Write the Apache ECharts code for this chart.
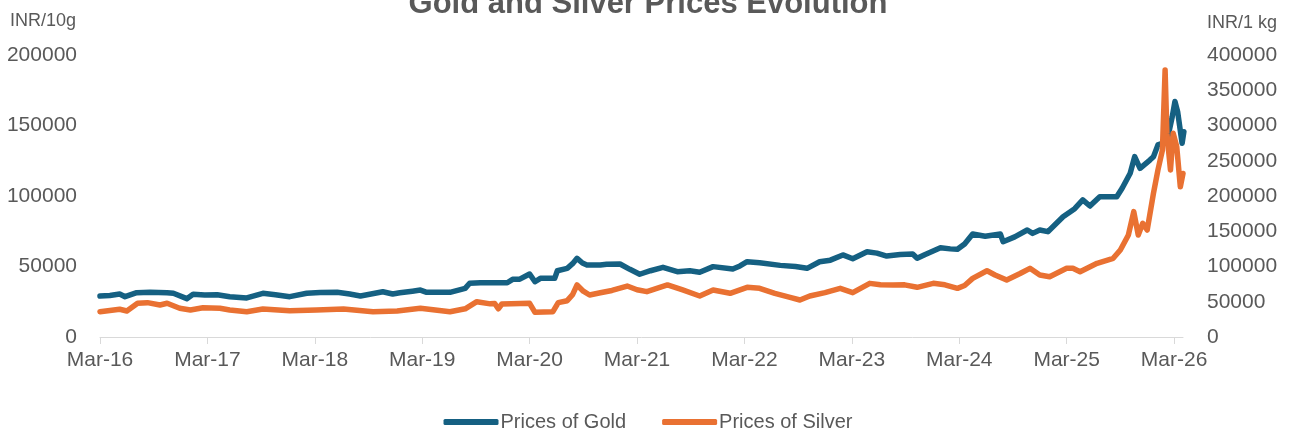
<!DOCTYPE html>
<html>
<head>
<meta charset="utf-8">
<script src="https://cdn.jsdelivr.net/npm/echarts@6/dist/echarts.min.js"></script>
<style>
html,body{margin:0;padding:0;background:#fff;}
#chart{width:1296px;height:434px;}
</style>
</head>
<body>
<div id="chart"></div>
<script>
// Months elapsed since March 2016
var goldMonths = [0,1.1,2.2,2.8,4.1,5.6,7.5,8.2,9.7,10.4,11.7,13.1,14.5,16.4,18.2,19.6,21.2,23.1,24.6,26.5,27.9,29.1,31.6,32.7,33.5,34.9,35.8,36.5,39.1,40.8,41.3,42.5,44.7,45.5,46.1,46.9,48.0,48.6,49.2,50.8,51.1,52.2,52.8,53.3,53.9,54.4,55.9,56.6,58.1,59.2,60.3,61.5,62.9,64.5,65.9,67.0,68.5,70.7,71.5,72.3,73.7,76.0,77.7,79.0,80.4,81.6,83.0,84.1,85.7,86.8,87.9,89.4,90.8,91.3,92.2,93.9,95.0,95.8,96.6,97.5,98.9,100.6,100.9,102.2,103.6,104.2,105.0,105.9,107.6,108.9,109.8,110.6,111.7,113.6,114.2,115.1,115.6,116.2,117.3,117.7,118.2,119.2,119.8,120.1,120.4,120.9,121.1];
// INR per 10 g
var goldValues = [29100,29500,30500,28600,31400,31800,31400,31000,27200,30300,29800,30000,28600,27700,31000,30000,28600,31000,31500,31700,30500,29100,32100,30500,31400,32500,33300,31700,31700,34500,38100,38500,38500,38500,40900,41000,44700,39200,41600,41600,47000,48700,52000,55800,52500,51100,51000,51600,51800,48000,44500,47000,49400,46300,47000,45900,49900,48200,50400,53400,52700,50800,50000,48700,53400,54500,58200,55500,60500,59500,57400,58500,58900,55800,58500,63300,62500,62200,66000,73000,71500,73000,67600,71000,75900,73500,75900,74700,85300,91000,97200,92900,99500,99500,105500,116100,127900,119600,125500,127900,136200,138500,156300,167000,159800,137400,145600];

var silverMonths = [0,1.1,2.2,3.0,4.2,5.3,6.7,7.5,8.9,10.1,11.5,13.4,14.5,16.4,18.2,21.2,24.2,27.2,30.5,33.2,35.8,39.1,40.8,42.1,43.6,44.1,44.5,44.9,48.0,48.6,50.6,51.2,52.2,52.8,53.3,54.0,54.7,55.9,57.2,58.9,60.0,61.1,63.4,65.1,67.0,68.5,70.4,72.3,73.7,75.4,77.1,78.2,79.3,81.0,82.7,84.1,86.0,87.2,88.6,89.9,91.3,93.1,94.4,95.8,96.6,97.5,99.1,100.0,101.3,102.8,103.9,105.0,106.1,108.0,108.7,109.5,111.4,113.2,114.0,114.9,115.5,116.0,116.5,117.0,117.7,118.2,118.7,119.0,119.2,119.6,119.9,120.3,120.7,121.0];
// INR per 1 kg
var silverValues = [35900,37500,39300,36900,47800,48700,45400,47800,40700,38300,41600,40700,38300,35900,39700,37300,38300,39700,35900,36900,40700,35900,40000,50100,47000,47500,40000,46800,47800,35000,35900,48700,51500,60000,73800,65000,59600,62800,66000,72300,67000,64300,73800,66700,58200,66700,62000,70500,69000,62000,56300,52500,58200,63000,69000,62900,76100,74000,73800,74000,70500,76100,74000,69000,73000,83200,94000,88000,80800,90000,97400,87900,85500,97400,97400,92600,104500,111600,123400,144700,177800,144700,161300,151800,203800,236900,265200,378700,288800,236900,289000,270000,213000,232000];

var tickMonths = [0,12,24,36,48,60,72,84,96,108,120];
var tickLabels = ['Mar-16','Mar-17','Mar-18','Mar-19','Mar-20','Mar-21','Mar-22','Mar-23','Mar-24','Mar-25','Mar-26'];

var titleText = 'Gold and Silver Prices Evolution';
var seriesNames = ['Prices of Gold','Prices of Silver'];
var axisNames = ['INR/10g','INR/1 kg'];

function pairs(xs, ys){ return xs.map(function(x,i){ return [x, ys[i]]; }); }
function plain(v){ return String(v); }

var FONT = '"Liberation Sans", Arial, sans-serif';
var GREY = '#595959';

var chart = echarts.init(document.getElementById('chart'), null, {renderer:'canvas'});
chart.setOption({
  animation:false,
  backgroundColor:'#ffffff',
  textStyle:{fontFamily:FONT},
  title:{
    text:titleText, left:'center', top:-16,
    textStyle:{fontFamily:FONT, fontSize:31, fontWeight:'bold', color:GREY}
  },
  legend:{
    bottom:-3, left:'center', itemWidth:55, itemHeight:6, itemGap:36, icon:'roundRect',
    textStyle:{fontFamily:FONT, fontSize:20, color:GREY, padding:[0,0,0,-3]},
    data:seriesNames
  },
  grid:{left:100, right:113, top:55, bottom:97, containLabel:false},
  xAxis:{
    type:'value', min:0, max:121,
    axisLine:{show:true, lineStyle:{color:'#d9d9d9', width:1}},
    axisTick:{show:true, length:7, lineStyle:{color:'#d9d9d9'}, customValues:tickMonths},
    splitLine:{show:false},
    axisLabel:{
      customValues:tickMonths, color:GREY, fontSize:21, fontFamily:FONT, margin:13,
      formatter:function(v){ var i = tickMonths.indexOf(v); return i>=0 ? tickLabels[i] : ''; }
    }
  },
  yAxis:[
    {
      type:'value', min:0, max:200000, interval:50000, position:'left',
      name:axisNames[0], nameLocation:'end', nameGap:34,
      nameTextStyle:{fontFamily:FONT, fontSize:18, color:GREY, align:'right', verticalAlign:'middle', padding:[0,24,0,0]},
      axisLine:{show:false}, axisTick:{show:false}, splitLine:{show:false},
      axisLabel:{color:GREY, fontSize:21, fontFamily:FONT, margin:23, formatter:plain}
    },
    {
      type:'value', min:0, max:400000, interval:50000, position:'right',
      name:axisNames[1], nameLocation:'end', nameGap:32,
      nameTextStyle:{fontFamily:FONT, fontSize:18, color:GREY, align:'left', verticalAlign:'middle', padding:[0,0,0,24]},
      axisLine:{show:false}, axisTick:{show:false}, splitLine:{show:false},
      axisLabel:{color:GREY, fontSize:21, fontFamily:FONT, margin:24, formatter:plain}
    }
  ],
  series:[
    {
      name:seriesNames[0], type:'line', yAxisIndex:0, symbol:'none', showSymbol:false,
      data:pairs(goldMonths, goldValues),
      itemStyle:{color:'#156082'},
      lineStyle:{color:'#156082', width:5.5, cap:'round', join:'round'}
    },
    {
      name:seriesNames[1], type:'line', yAxisIndex:1, symbol:'none', showSymbol:false,
      data:pairs(silverMonths, silverValues),
      itemStyle:{color:'#E97132'},
      lineStyle:{color:'#E97132', width:5.5, cap:'round', join:'round'}
    }
  ]
});
</script>
</body>
</html>
